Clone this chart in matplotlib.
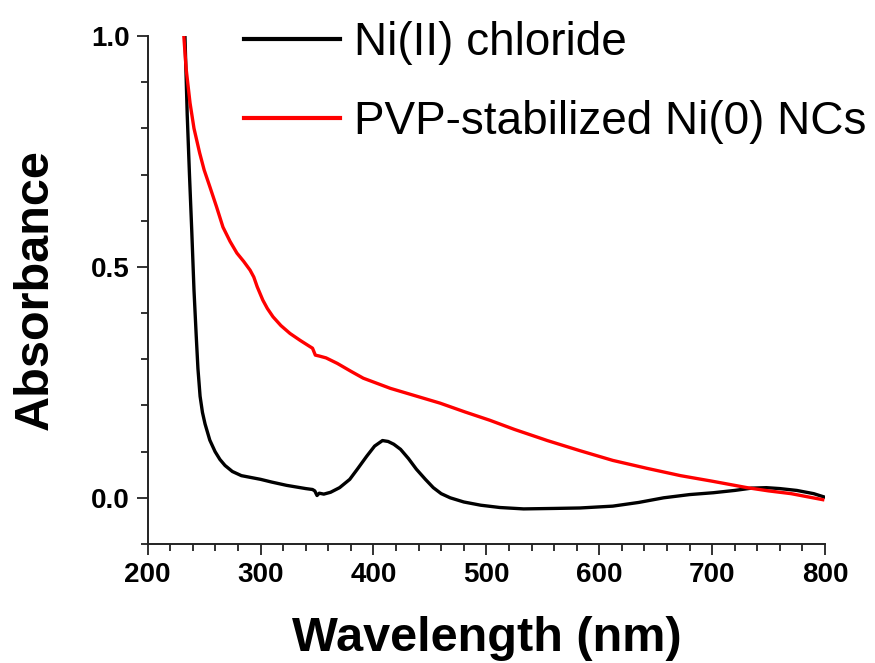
import matplotlib
matplotlib.use("Agg")
import matplotlib.pyplot as plt
from matplotlib.ticker import MultipleLocator, FormatStrFormatter

plt.rcParams['font.family'] = ['Liberation Sans', 'DejaVu Sans']

# UV-Vis spectra (wavelength in nm, absorbance)
nicl2_wl = [233, 235, 237, 239, 241, 243, 244.5, 246.4, 248.5, 250.8, 255, 259.7,
            264, 268.5, 275, 283, 300, 310, 323, 340, 346, 348, 350, 352, 356,
            362, 370, 379, 386, 394, 401, 408, 413, 418, 424, 431, 438, 446,
            453, 460, 468, 480, 495, 512, 533, 560, 583, 612, 635, 657, 680,
            701, 720, 735, 748, 760, 775, 790, 799]
nicl2_abs = [1.0, 0.83, 0.70, 0.58, 0.45, 0.35, 0.28, 0.22, 0.185, 0.16, 0.125, 0.10,
             0.083, 0.07, 0.057, 0.048, 0.04, 0.034, 0.027, 0.02, 0.018, 0.015, 0.005, 0.01, 0.008,
             0.012, 0.022, 0.04, 0.063, 0.09, 0.112, 0.124, 0.122, 0.116, 0.105, 0.085, 0.062, 0.04,
             0.022, 0.009, 0.0, -0.009, -0.016, -0.021, -0.024, -0.023, -0.022, -0.018, -0.01, 0.0, 0.007,
             0.011, 0.016, 0.021, 0.022, 0.02, 0.016, 0.009, 0.002]

ni0_wl = [232, 234, 237.5, 241, 246, 250, 255, 261, 266.7, 273, 279, 285, 290.7,
          294, 297, 302, 306, 311, 318, 326, 335, 344, 346, 347, 348.5, 352,
          355, 358, 368, 380, 391, 403, 415, 437, 459, 481, 503, 525, 548, 554,
          583, 612, 642, 672, 700, 731, 750, 770, 785, 798]
ni0_abs = [1.0, 0.93, 0.855, 0.80, 0.747, 0.71, 0.674, 0.63, 0.586, 0.555, 0.53, 0.512, 0.493,
           0.478, 0.457, 0.428, 0.41, 0.392, 0.373, 0.356, 0.341, 0.327, 0.324, 0.318, 0.309, 0.307,
           0.305, 0.303, 0.291, 0.274, 0.259, 0.248, 0.237, 0.221, 0.205, 0.186, 0.168, 0.148, 0.129, 0.124,
           0.102, 0.081, 0.064, 0.048, 0.036, 0.022, 0.015, 0.009, 0.002, -0.004]

labels = ["Ni(II) chloride", "PVP-stabilized Ni(0) NCs"]

fig = plt.figure(figsize=(8.75, 6.63), dpi=100)
ax = fig.add_axes([147.7 / 875, 119 / 663, (825 - 147.7) / 875, (544 - 36) / 663])

ax.plot(nicl2_wl, nicl2_abs, color='black', lw=2.4, label=labels[0])
ax.plot(ni0_wl, ni0_abs, color='#ff0000', lw=2.4, label=labels[1])

ax.set_xlim(200, 800)
ax.set_ylim(-0.1, 1.0)
ax.xaxis.set_major_locator(MultipleLocator(100))
ax.xaxis.set_minor_locator(MultipleLocator(20))
ax.yaxis.set_major_locator(MultipleLocator(0.5))
ax.yaxis.set_minor_locator(MultipleLocator(0.1))
ax.yaxis.set_major_formatter(FormatStrFormatter('%.1f'))

for side in ['top', 'right']:
    ax.spines[side].set_visible(False)
for side in ['left', 'bottom']:
    ax.spines[side].set_linewidth(1.4)
    ax.spines[side].set_color('#222222')

ax.tick_params(which='major', direction='out', length=8, width=1.3, color='#222222',
               labelsize=20)
ax.tick_params(which='minor', direction='out', length=5, width=1.3, color='#222222')
ax.tick_params(axis='x', which='major', pad=5)
ax.tick_params(axis='y', which='major', pad=5)
for lbl in ax.get_xticklabels() + ax.get_yticklabels():
    lbl.set_fontweight('bold')

ax.set_xlabel("Wavelength (nm)", fontsize=35, fontweight='bold', labelpad=20)
ax.set_ylabel("Absorbance", fontsize=35, fontweight='bold', labelpad=24)

leg = ax.legend(loc='upper left', bbox_to_anchor=(244 / 875, 1 - 21 / 663),
                bbox_transform=fig.transFigure, frameon=False, fontsize=33,
                handlelength=2.1, handletextpad=0.3, labelspacing=0.76,
                borderpad=0, borderaxespad=0)
for line in leg.get_lines():
    line.set_linewidth(3.0)

fig.savefig("out.png", dpi=100)
